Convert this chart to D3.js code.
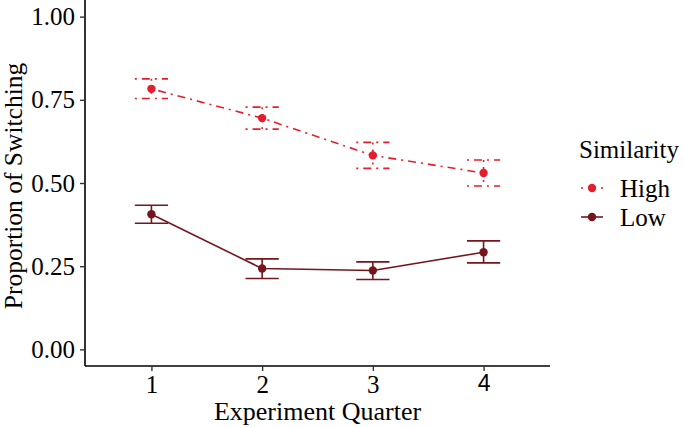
<!DOCTYPE html>
<html>
<head>
<meta charset="utf-8">
<script src="https://cdn.jsdelivr.net/npm/d3@7"></script>
<style>
  html, body { margin: 0; padding: 0; background: #ffffff; }
  svg { display: block; }
</style>
</head>
<body>
<svg id="chart" width="685" height="427"></svg>
<script>
// ---- data ----
const quarters = [1, 2, 3, 4];
const seriesNames = ["High", "Low"];
const highMean  = [0.783, 0.695, 0.583, 0.530];
const highLower = [0.754, 0.662, 0.544, 0.491];
const highUpper = [0.813, 0.728, 0.622, 0.569];
const lowMean   = [0.406, 0.243, 0.237, 0.292];
const lowLower  = [0.379, 0.213, 0.210, 0.260];
const lowUpper  = [0.433, 0.272, 0.263, 0.326];
const yTicks = [0, 0.25, 0.5, 0.75, 1.0];
const yTickLabels = ["0.00", "0.25", "0.50", "0.75", "1.00"];
const xTitle = "Experiment Quarter";
const yTitle = "Proportion of Switching";
const legendTitle = "Similarity";

// ---- styles ----
const SERIF = "Liberation Serif";
const SANS = "Liberation Sans";
const colors = { High: "#e41f2d", Low: "#75161f" };
const dashes = { High: "2,5,8,5", Low: null };

const series = [
  { name: "High", mean: highMean, lo: highLower, hi: highUpper },
  { name: "Low",  mean: lowMean,  lo: lowLower,  hi: lowUpper }
];

const svg = d3.select("#chart");
const mLeft = 85, mRight = 550, mTop = 0, mBottom = 366;

const x = d3.scalePoint().domain(quarters).range([mLeft, mRight]).padding(0.6);
const y = d3.scaleLinear().domain([-0.05, 1.05]).range([mBottom, mTop]);
const barHalf = x.step() * 0.15;

// axes
const yAxis = d3.axisLeft(y).tickValues(yTicks)
  .tickFormat((d, i) => yTickLabels[i]).tickSize(5).tickPadding(5);
const xAxis = d3.axisBottom(x).tickSize(5).tickPadding(4);

const gy = svg.append("g").attr("transform", `translate(${mLeft},0)`).call(yAxis);
const gx = svg.append("g").attr("transform", `translate(0,${mBottom})`).call(xAxis);
[gy, gx].forEach(g => {
  g.attr("font-family", SERIF).attr("font-size", 25);
  g.select(".domain").attr("stroke", "#000").attr("stroke-width", 1.6);
  g.selectAll(".tick line").attr("stroke", "#333").attr("stroke-width", 1.4);
  g.selectAll(".tick text").attr("font-family", SERIF)
    .attr("font-size", 25).attr("fill", "#000");
});
gy.select(".domain").attr("d", `M0,${mBottom}V${mTop}`);
gx.select(".domain").attr("d", `M${mLeft},0H${mRight}`);
gx.selectAll(".tick text").filter(d => d === 4)
  .attr("font-family", SANS).attr("font-size", 23);

// titles
svg.append("text").attr("x", (mLeft + mRight) / 2).attr("y", 420)
  .attr("font-family", SERIF).attr("fill", "#000")
  .attr("text-anchor", "middle").attr("font-size", 26).text(xTitle);
svg.append("text").attr("transform", `translate(22,${(mTop + mBottom) / 2 + 3}) rotate(-90)`)
  .attr("font-family", SERIF).attr("fill", "#000")
  .attr("text-anchor", "middle").attr("font-size", 25.5).text(yTitle);

// series
const line = d3.line().x(d => x(d.q)).y(d => y(d.v));
series.forEach(s => {
  const pts = quarters.map((q, i) => ({ q, v: s.mean[i], lo: s.lo[i], hi: s.hi[i] }));
  const g = svg.append("g");
  g.append("path").datum(pts).attr("d", line)
    .attr("fill", "none").attr("stroke", colors[s.name]).attr("stroke-width", 1.6)
    .attr("stroke-dasharray", dashes[s.name]);
  g.selectAll("path.err").data(pts).enter().append("path").attr("class", "err")
    .attr("d", d => {
      const cx = x(d.q), yt = y(d.hi), yb = y(d.lo);
      return `M${cx - barHalf},${yt}H${cx + barHalf}M${cx},${yt}V${yb}M${cx - barHalf},${yb}H${cx + barHalf}`;
    })
    .attr("fill", "none").attr("stroke", colors[s.name]).attr("stroke-width", 1.6)
    .attr("stroke-dasharray", dashes[s.name]);
  g.selectAll("circle").data(pts).enter().append("circle")
    .attr("cx", d => x(d.q)).attr("cy", d => y(d.v)).attr("r", 4.2)
    .attr("fill", colors[s.name]);
});

// legend
const lg = svg.append("g").attr("font-family", SERIF).attr("fill", "#000");
lg.append("text").attr("x", 579).attr("y", 158).attr("font-size", 25)
  .attr("font-family", SERIF).text(legendTitle);
const keyY = [188, 217];
seriesNames.forEach((n, i) => {
  lg.append("line").attr("x1", 581).attr("x2", 603).attr("y1", keyY[i]).attr("y2", keyY[i])
    .attr("stroke", colors[n]).attr("stroke-width", 1.6).attr("stroke-dasharray", dashes[n]);
  lg.append("circle").attr("cx", 592).attr("cy", keyY[i]).attr("r", 4.2).attr("fill", colors[n]);
  lg.append("text").attr("x", 620).attr("y", keyY[i] + 9).attr("font-size", 25)
    .attr("font-family", SERIF).attr("fill", "#000").text(n);
});
</script>
</body>
</html>
